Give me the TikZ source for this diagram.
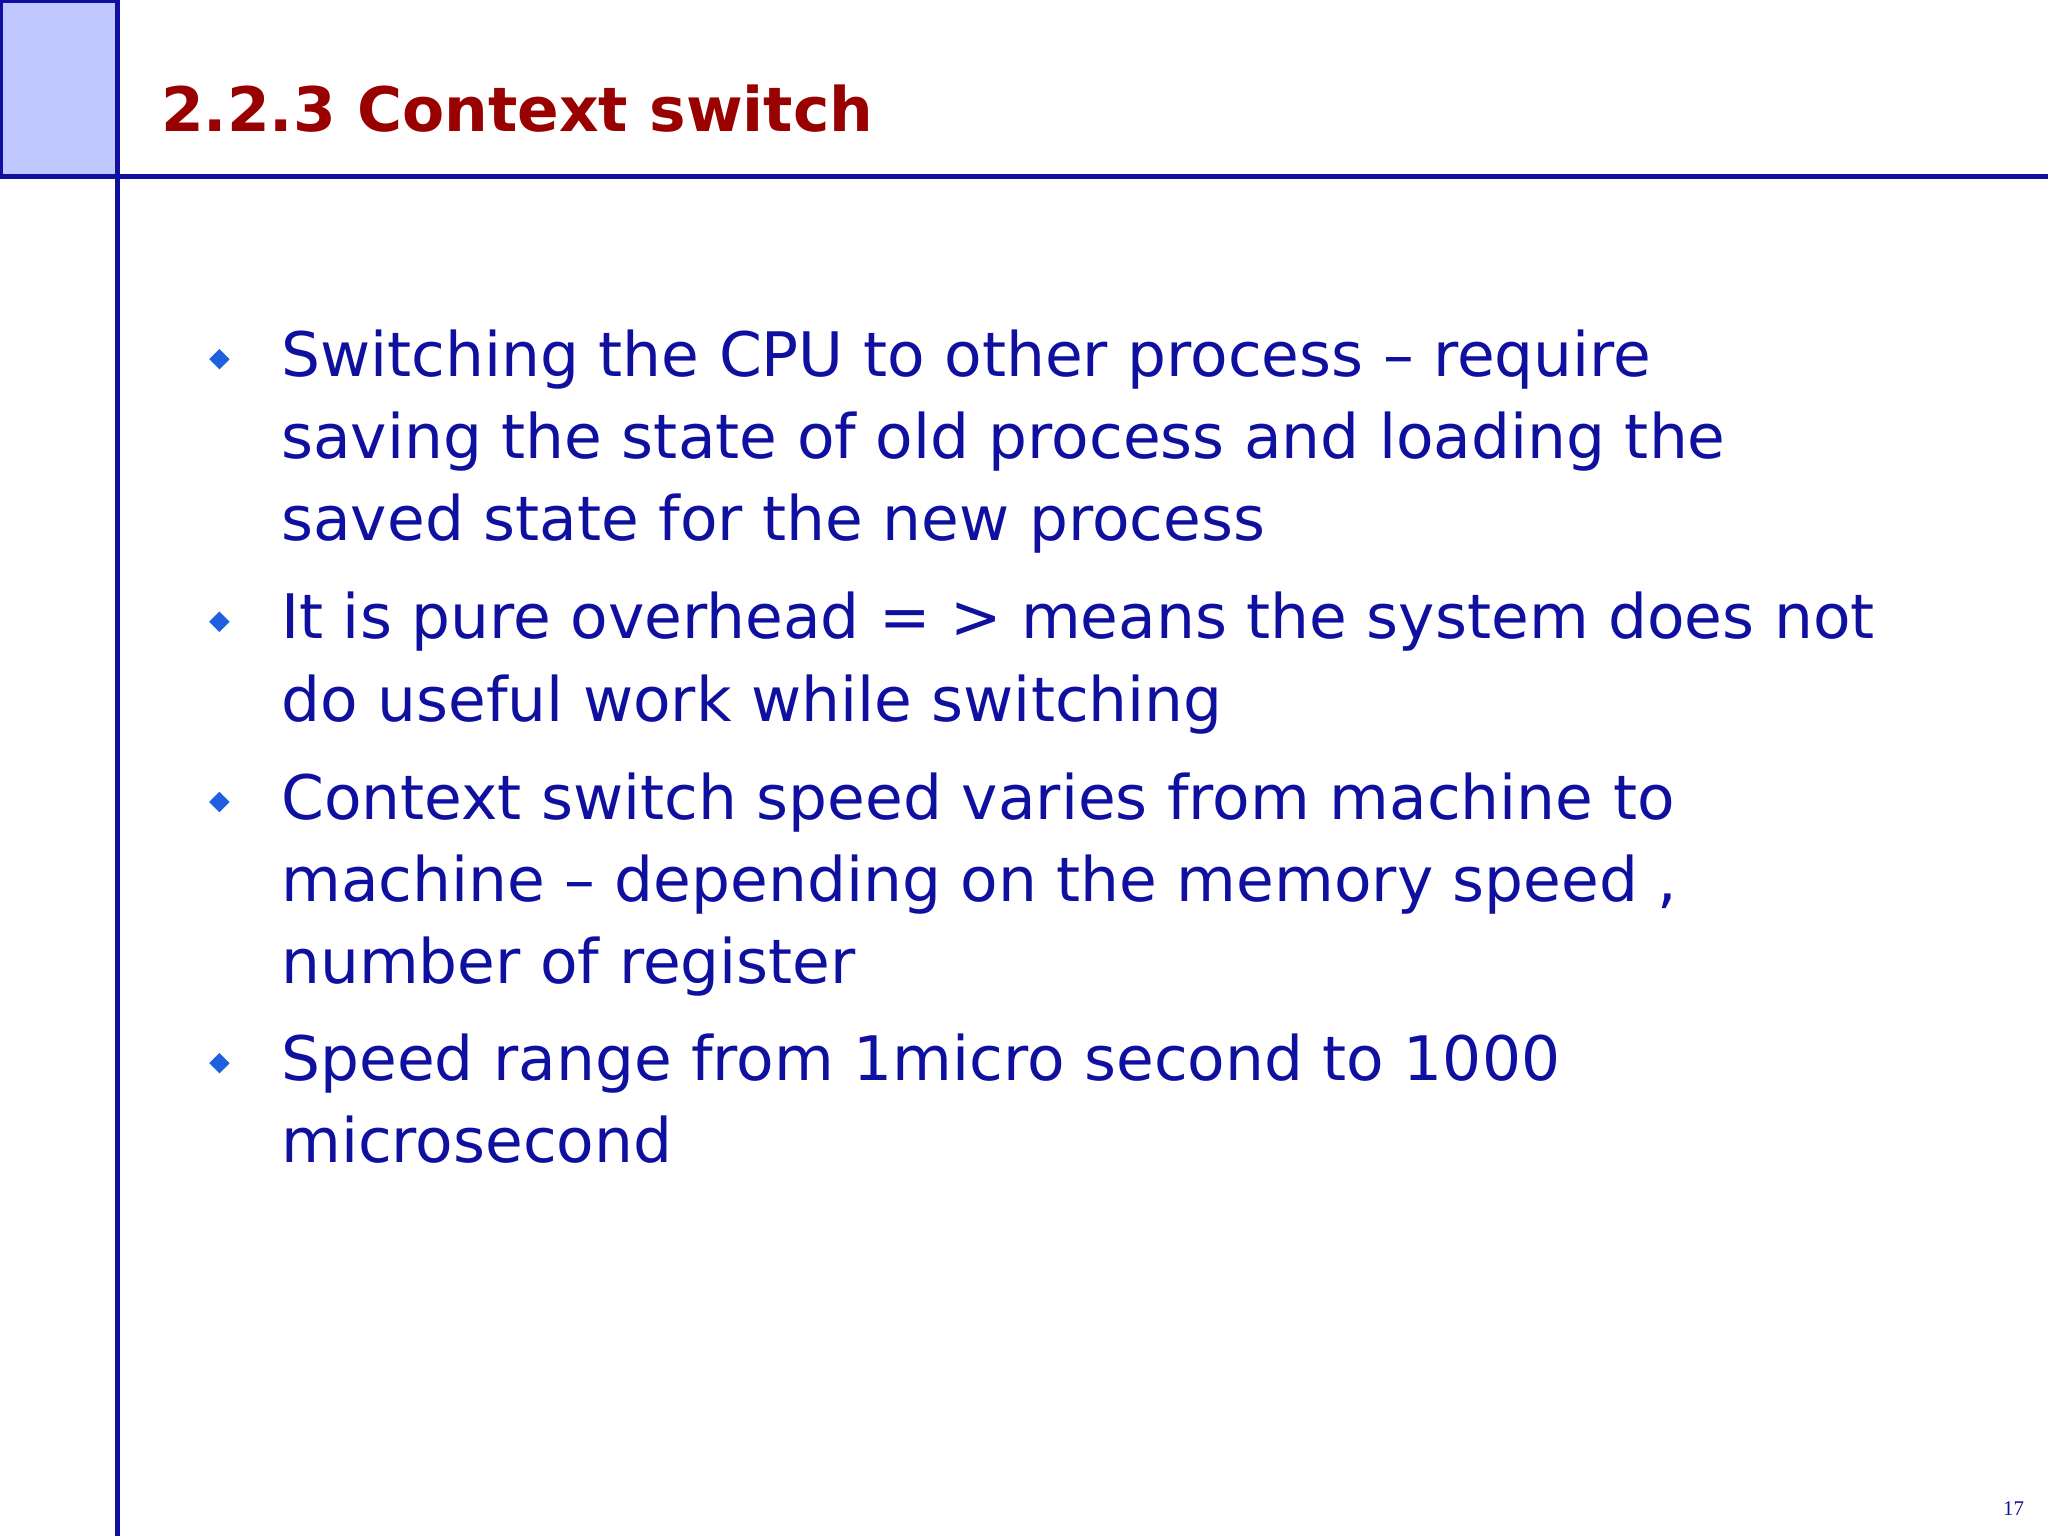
\documentclass[tikz,border=0pt]{standalone}
\usepackage{fontspec}
\usetikzlibrary{shapes.geometric}
\setmainfont{DejaVu Sans}
\newfontfamily\numfont{Liberation Serif}
\definecolor{navy}{HTML}{1010A0}
\definecolor{lightbox}{HTML}{C0C8FF}
\definecolor{titlered}{HTML}{990000}
\definecolor{bulletblue}{HTML}{2060E0}
\begin{document}
\begin{tikzpicture}[x=0.5pt,y=-0.5pt,
  txt/.style={anchor=north west,inner sep=0,text=navy,font=\fontsize{23.5}{31.5}\selectfont,align=left},
  bul/.style={diamond,fill=bulletblue,inner sep=0,minimum size=8pt}]
\useasboundingbox (0,0) rectangle (1568,1176);
\fill[white] (0,0) rectangle (1568,1176);
\draw[navy,line width=1.5pt,fill=lightbox] (1,1) rectangle (90,135);
\draw[navy,line width=2pt] (90,0) -- (90,1176);
\draw[navy,line width=2pt] (0,135) -- (1568,135);
\node[anchor=base west,inner sep=0,text=titlered,font=\fontsize{23.5}{30}\bfseries\selectfont] (title) at (123,101) {2.2.3 Context switch};
\node[bul] (b1) at (168,275) {};
\node[bul] (b2) at (168,476) {};
\node[bul] (b3) at (168,614) {};
\node[bul] (b4) at (168,814) {};
\node[txt] (t1) at (215,252) {Switching the CPU to other process – require\\saving the state of old process and loading the\\saved state for the new process};
\node[txt] (t2) at (215,453) {It is pure overhead = > means the system does not\\do useful work while switching};
\node[txt] (t3) at (215,591) {Context switch speed varies from machine to\\machine – depending on the memory speed ,\\number of register};
\node[txt] (t4) at (215,791) {Speed range from 1micro second to 1000\\microsecond};
\node[anchor=base east,inner sep=0,text=navy,font=\numfont\fontsize{8}{10}\selectfont] (pg) at (1550,1160) {17};
\end{tikzpicture}
\end{document}
